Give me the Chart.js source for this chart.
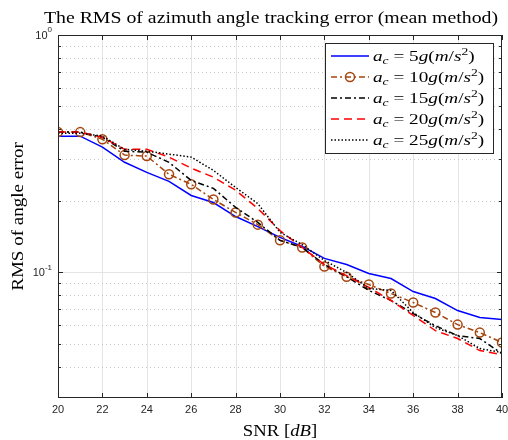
<!DOCTYPE html>
<html>
<head>
<meta charset="utf-8">
<script src="https://cdn.jsdelivr.net/npm/chart.js@4.4.0/dist/chart.umd.min.js"></script>
<style>
html, body { margin: 0; padding: 0; background: #fff; }
</style>
</head>
<body>
<canvas id="chart" width="508" height="440"></canvas>
<script>
'use strict';

// values (SNR in dB, RMS of angle error)
const snr = [20, 21, 22, 23, 24, 25, 26, 27, 28, 29, 30, 31, 32, 33, 34, 35, 36, 37, 38, 39, 40];
const rms5g  = [0.375, 0.375, 0.337, 0.291, 0.264, 0.242, 0.211, 0.197, 0.172, 0.156, 0.1405, 0.1287, 0.1146, 0.108, 0.099, 0.0943, 0.0831, 0.0777, 0.0691, 0.0646, 0.0633];
const rms10g = [0.39, 0.39, 0.364, 0.312, 0.309, 0.259, 0.235, 0.203, 0.179, 0.159, 0.1365, 0.1274, 0.106, 0.096, 0.089, 0.0815, 0.0747, 0.0678, 0.0603, 0.0558, 0.0507];
const rms15g = [0.39, 0.39, 0.371, 0.324, 0.321, 0.291, 0.244, 0.226, 0.188, 0.1625, 0.1365, 0.1274, 0.108, 0.096, 0.084, 0.0762, 0.0671, 0.0597, 0.0542, 0.0527, 0.0455];
const rms20g = [0.39, 0.39, 0.371, 0.33, 0.33, 0.306, 0.275, 0.252, 0.222, 0.186, 0.15, 0.1274, 0.108, 0.097, 0.0865, 0.0762, 0.0659, 0.0569, 0.0527, 0.0469, 0.0451];
const rms25g = [0.386, 0.386, 0.375, 0.33, 0.324, 0.315, 0.306, 0.269, 0.228, 0.195, 0.1475, 0.131, 0.1123, 0.1, 0.0856, 0.084, 0.0678, 0.0586, 0.0542, 0.0478, 0.046];

const accelG = ['5', '10', '15', '20', '25'];
const xTicks = [20, 22, 24, 26, 28, 30, 32, 34, 36, 38, 40];
const yMajor = [1, 0.1];
const yMajorExp = ['0', '-1'];
const yMinor = [0.03, 0.04, 0.05, 0.06, 0.07, 0.08, 0.09, 0.2, 0.3, 0.4, 0.5, 0.6, 0.7, 0.8, 0.9];
const yMin = 0.0296;
const yMax = 1;

const SERIF = '"Liberation Serif", "Times New Roman", serif';
const SANS = '"Liberation Sans", Arial, sans-serif';
const AXIS = '#262626';

function pts(values) {
    return snr.map((s, i) => ({ x: s, y: values[i] }));
}

// draw a run of upright / italic / raised pieces, like latex text
// sx widens the glyphs a bit, computer modern is wider than times
function drawRuns(ctx, runs, x, y, align, sx) {
    sx = sx || 1;
    const setFont = r => { ctx.font = `${r.it ? 'italic ' : ''}${r.size}px ${SERIF}`; };
    let total = 0;
    runs.forEach(r => { setFont(r); total += ctx.measureText(r.t).width; });
    ctx.save();
    ctx.translate(x, y);
    ctx.scale(sx, 1);
    let cx = align === 'center' ? -total / 2 : 0;
    runs.forEach(r => {
        setFont(r);
        ctx.fillText(r.t, cx, r.dy || 0);
        cx += ctx.measureText(r.t).width;
    });
    ctx.restore();
    return total * sx;
}

function legendRuns(g) {
    const s = 15.5, small = 11;
    return [
        { t: 'a', it: true, size: s },
        { t: 'c', it: true, size: small, dy: 3 },
        { t: ' = ' + g, size: s },
        { t: 'g', it: true, size: s },
        { t: '(', size: s },
        { t: 'm', it: true, size: s },
        { t: '/', size: s },
        { t: 's', it: true, size: s },
        { t: '2', size: small, dy: -6 },
        { t: ')', size: s }
    ];
}

const matlabAxes = {
    id: 'matlabAxes',
    beforeDatasetsDraw(chart) {
        const { ctx, chartArea: a, scales: { x, y } } = chart;
        ctx.save();
        ctx.lineWidth = 1;
        ctx.strokeStyle = '#e4e4e4';
        xTicks.slice(1, -1).forEach(v => {
            const px = Math.round(x.getPixelForValue(v)) + 0.5;
            ctx.beginPath(); ctx.moveTo(px, a.top); ctx.lineTo(px, a.bottom); ctx.stroke();
        });
        ctx.setLineDash([1, 3]);
        ctx.strokeStyle = '#c8c8c8';
        yMinor.filter(v => v > yMin && v < yMax).forEach(v => {
            const py = Math.round(y.getPixelForValue(v)) + 0.5;
            ctx.beginPath(); ctx.moveTo(a.left, py); ctx.lineTo(a.right, py); ctx.stroke();
        });
        ctx.setLineDash([]);
        ctx.strokeStyle = '#e4e4e4';
        yMajor.filter(v => v > yMin && v < yMax).forEach(v => {
            const py = Math.round(y.getPixelForValue(v)) + 0.5;
            ctx.beginPath(); ctx.moveTo(a.left, py); ctx.lineTo(a.right, py); ctx.stroke();
        });
        ctx.restore();
    },
    afterDatasetsDraw(chart) {
        const { ctx, chartArea: a, scales: { x, y } } = chart;
        ctx.save();
        // box and ticks
        ctx.strokeStyle = AXIS;
        ctx.lineWidth = 1;
        ctx.strokeRect(a.left + 0.5, a.top + 0.5, a.right - a.left - 1, a.bottom - a.top - 1);
        ctx.beginPath();
        xTicks.forEach(v => {
            const px = Math.round(x.getPixelForValue(v)) + 0.5;
            ctx.moveTo(px, a.bottom); ctx.lineTo(px, a.bottom - 5);
            ctx.moveTo(px, a.top); ctx.lineTo(px, a.top + 5);
        });
        yMajor.concat(yMinor).filter(v => v >= yMin && v <= yMax).forEach(v => {
            const py = Math.round(y.getPixelForValue(v)) + 0.5;
            const len = yMajor.includes(v) ? 5 : 3;
            ctx.moveTo(a.left, py); ctx.lineTo(a.left + len, py);
            ctx.moveTo(a.right, py); ctx.lineTo(a.right - len, py);
        });
        ctx.stroke();

        // tick labels
        ctx.fillStyle = AXIS;
        ctx.font = `11px ${SANS}`;
        ctx.textAlign = 'center';
        ctx.textBaseline = 'top';
        xTicks.forEach(v => ctx.fillText(String(v), x.getPixelForValue(v), a.bottom + 6));
        ctx.textBaseline = 'middle';
        yMajor.forEach((v, i) => {
            const py = y.getPixelForValue(v);
            ctx.font = `8px ${SANS}`;
            ctx.textAlign = 'right';
            const ew = ctx.measureText(yMajorExp[i]).width;
            ctx.fillText(yMajorExp[i], a.left - 6, py - 5);
            ctx.font = `11px ${SANS}`;
            ctx.fillText('10', a.left - 6 - ew, py + 1);
        });

        // title and axis labels
        ctx.fillStyle = '#000';
        ctx.textAlign = 'left';
        ctx.textBaseline = 'alphabetic';
        const cx = (a.left + a.right) / 2;
        drawRuns(ctx, [{ t: 'The RMS of azimuth angle tracking error (mean method)', size: 16.5 }], cx - 9, 23, 'center', 1.2);
        drawRuns(ctx, [{ t: 'SNR [', size: 17 }, { t: 'dB', it: true, size: 17 }, { t: ']', size: 17 }], cx, 436, 'center', 1.1);
        ctx.save();
        ctx.translate(23, (a.top + a.bottom) / 2);
        ctx.rotate(-Math.PI / 2);
        drawRuns(ctx, [{ t: 'RMS of angle error', size: 17 }], 0, 0, 'center', 1.12);
        ctx.restore();

        // legend
        const bx = 325, by = 43, bw = 168, bh = 110;
        ctx.fillStyle = '#fff';
        ctx.fillRect(bx, by, bw, bh);
        ctx.strokeStyle = AXIS;
        ctx.strokeRect(bx + 0.5, by + 0.5, bw, bh);
        chart.data.datasets.forEach((ds, i) => {
            const ly = by + 13 + i * 21;
            ctx.save();
            ctx.strokeStyle = ds.borderColor;
            ctx.lineWidth = ds.borderWidth;
            ctx.setLineDash(ds.borderDash || []);
            ctx.beginPath(); ctx.moveTo(bx + 6, ly); ctx.lineTo(bx + 44, ly); ctx.stroke();
            if (ds.pointRadius > 0) {
                ctx.setLineDash([]);
                ctx.beginPath(); ctx.arc(bx + 25, ly, ds.pointRadius, 0, Math.PI * 2); ctx.stroke();
            }
            ctx.restore();
            ctx.fillStyle = '#000';
            drawRuns(ctx, legendRuns(accelG[i]), bx + 48, ly + 5, 'left', 1.24);
        });
        ctx.restore();
    }
};

const brown = '#a4460f';
const series = [rms5g, rms10g, rms15g, rms20g, rms25g];
const colors = ['#0000ff', brown, '#000000', '#ff0000', '#000000'];
const dashes = [[], [6, 3, 2, 3], [6, 3, 2, 3], [8, 5], [1.5, 2]];

new Chart(document.getElementById('chart'), {
    type: 'line',
    data: {
        datasets: series.map((vals, i) => ({
            label: `a_c = ${accelG[i]}g(m/s^2)`,
            data: pts(vals),
            borderColor: colors[i],
            borderWidth: 1.5,
            borderDash: dashes[i],
            borderCapStyle: 'butt',
            pointRadius: i === 1 ? 4.5 : 0,
            pointBorderWidth: 1.5,
            pointBorderColor: colors[i],
            pointBackgroundColor: 'rgba(0,0,0,0)',
            pointStyle: 'circle',
            tension: 0,
            fill: false,
            order: 5 - i
        }))
    },
    options: {
        responsive: false,
        animation: false,
        devicePixelRatio: 1,
        layout: { padding: { left: 58, right: 6, top: 35, bottom: 42 } },
        plugins: { legend: { display: false }, title: { display: false }, tooltip: { enabled: false } },
        scales: {
            x: { type: 'linear', min: 20, max: 40, display: false },
            y: { type: 'logarithmic', min: yMin, max: yMax, display: false }
        }
    },
    plugins: [matlabAxes]
});
</script>
</body>
</html>
